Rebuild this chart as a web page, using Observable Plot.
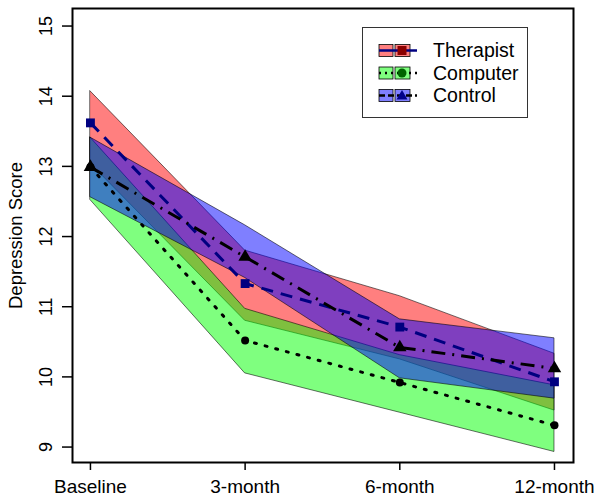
<!DOCTYPE html>
<html>
<head>
<meta charset="utf-8">
<script src="https://cdn.jsdelivr.net/npm/d3@7"></script>
<script src="https://cdn.jsdelivr.net/npm/@observablehq/plot@0.6"></script>
<style>
  html, body { margin: 0; padding: 0; background: white; }
  #wrap { position: relative; width: 601px; height: 500px; font-family: Arial, "Liberation Sans", sans-serif; }
  #legend { position: absolute; left: 362px; top: 27px; }
</style>
</head>
<body>
<div id="wrap"><div id="chart"></div><div id="legend"></div></div>
<script>
// ---- data ----
const timepoints = ["Baseline", "3-month", "6-month", "12-month"];
const yTicks = [9, 10, 11, 12, 13, 14, 15];

const therapistMean = [13.62, 11.33, 10.71, 9.93];
const therapistLow  = [13.04, 10.80, 10.25, 9.52];
const therapistHigh = [14.07, 11.80, 11.15, 10.33];

const computerMean = [12.99, 10.52, 9.92, 9.31];
const computerLow  = [12.52, 10.05, 9.49, 8.93];
const computerHigh = [13.41, 10.97, 10.31, 9.88];

const controlMean = [12.99, 11.71, 10.42, 10.12];
const controlLow  = [12.56, 11.41, 9.98, 9.69];
const controlHigh = [13.41, 12.16, 10.82, 10.55];

const seriesNames = ["Therapist", "Computer", "Control"];
const bandColors = ["#ff0000", "#00ff00", "#0000ff"];
const pointColors = ["#000080", "#000000", "#000000"];
const legendPointColors = ["#8b0000", "#006400", "#00008b"];
const lineDash = ["12,8", "2,9", "14,7,2,7"];
const lineColors = ["#000080", "#000000", "#000000"];
const symbols = ["square", "circle", "triangle"];

function rows(mean, lo, hi) {
  return timepoints.map((t, i) => ({i, t, mean: mean[i], lo: lo[i], hi: hi[i]}));
}
const therapist = rows(therapistMean, therapistLow, therapistHigh);
const computer = rows(computerMean, computerLow, computerHigh);
const control = rows(controlMean, controlLow, controlHigh);
const all = [therapist, computer, control];

const marks = [];
all.forEach((d, k) => {
  marks.push(Plot.areaY(d, {x: "i", y1: "lo", y2: "hi", fill: bandColors[k], fillOpacity: 0.5,
    stroke: "#000", strokeWidth: 0.7, strokeOpacity: 0.8}));
});
// lines: therapist, control, computer
[0, 2, 1].forEach(k => {
  marks.push(Plot.line(all[k], {x: "i", y: "mean", stroke: lineColors[k], strokeWidth: 3,
    strokeDasharray: lineDash[k], strokeLinecap: k === 1 ? "round" : "butt"}));
});
[0, 2, 1].forEach(k => {
  marks.push(Plot.dot(all[k], {x: "i", y: "mean", symbol: symbols[k], fill: pointColors[k],
    r: k === 1 ? 4 : 5, stroke: "none"}));
});
marks.push(Plot.frame({stroke: "black", strokeWidth: 2}));
marks.push(Plot.axisX({ticks: [0, 1, 2, 3], tickFormat: i => timepoints[i], tickSize: 8, tickPadding: 9,
  label: null, fontSize: 19, strokeWidth: 1.5}));
marks.push(Plot.axisY({ticks: yTicks, tickSize: 10, tickFormat: () => "", label: null, strokeWidth: 1.5}));
marks.push(Plot.text(yTicks, {y: d => d, text: d => String(d), frameAnchor: "left", dx: -26,
  rotate: -90, textAnchor: "middle", lineAnchor: "middle", fontSize: 18, fill: "black"}));
marks.push(Plot.text(["Depression Score"], {text: d => d, frameAnchor: "left", dx: -56,
  rotate: -90, textAnchor: "middle", lineAnchor: "middle", fontSize: 18.5, fill: "black"}));

const chart = Plot.plot({
  width: 601, height: 500,
  marginLeft: 72, marginRight: 28, marginTop: 8, marginBottom: 38,
  x: {domain: [-0.116, 3.123]},
  y: {domain: [8.78, 15.25]},
  style: {fontFamily: "Arial, 'Liberation Sans', sans-serif", fontSize: "18px", color: "black", background: "white"},
  marks
});
document.getElementById("chart").appendChild(chart);

// ---- legend ----
const rowY = [23.5, 46, 68.5];
let svg = `<svg width="167" height="92" xmlns="http://www.w3.org/2000/svg" style="font-family: Arial, 'Liberation Sans', sans-serif">`;
svg += `<rect x="0.5" y="0.5" width="165" height="90" fill="white" stroke="#333" stroke-width="1"/>`;
seriesNames.forEach((name, k) => {
  const y = rowY[k];
  const c = bandColors[k];
  svg += `<rect x="17" y="${y - 6}" width="14" height="12" fill="${c}" fill-opacity="0.5" stroke="#000" stroke-width="0.8"/>`;
  svg += `<rect x="33" y="${y - 6}" width="15" height="12" fill="${c}" fill-opacity="0.5" stroke="#000" stroke-width="0.8"/>`;
  svg += `<line x1="17" x2="55" y1="${y}" y2="${y}" stroke="${lineColors[k]}" stroke-width="2.5" stroke-dasharray="${k === 0 ? "none" : k === 1 ? "2,4" : "6,3"}"/>`;
  const px = 40, pc = legendPointColors[k];
  if (symbols[k] === "square") svg += `<rect x="${px - 4.5}" y="${y - 4.5}" width="9" height="9" fill="${pc}"/>`;
  else if (symbols[k] === "circle") svg += `<circle cx="${px}" cy="${y}" r="4.5" fill="${pc}"/>`;
  else svg += `<path d="M${px},${y - 5.5}L${px + 5.5},${y + 4}L${px - 5.5},${y + 4}Z" fill="${pc}"/>`;
  svg += `<text x="71" y="${y}" dy="0.35em" font-size="19.5" fill="black">${name}</text>`;
});
svg += `</svg>`;
document.getElementById("legend").innerHTML = svg;
</script>
</body>
</html>
